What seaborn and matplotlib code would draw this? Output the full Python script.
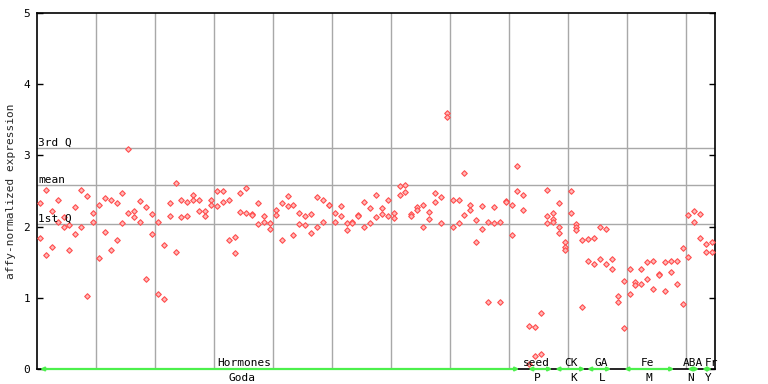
import matplotlib
matplotlib.use("Agg")
import matplotlib.pyplot as plt
import numpy as np
import pandas as pd
import seaborn as sns

# ---------------- data ----------------
hormones_goda = [
    (2.33, 1.84), (2.51, 1.60), (2.22, 1.71), (2.38, 2.07), (2.13, 1.99),
    (2.02, 1.67), (2.27, 1.89), (2.52, 1.99), (2.43, 1.02), (2.19, 2.07),
    (2.31, 1.56), (2.40, 1.93), (2.38, 1.67), (2.33, 1.81), (2.47, 2.05),
    (3.09, 2.19), (2.22, 2.13), (2.36, 2.07), (2.27, 1.27), (2.17, 1.89),
    (2.07, 1.05), (1.74, 0.99), (2.33, 2.15), (2.61, 1.65), (2.38, 2.13),
    (2.34, 2.15), (2.45, 2.37), (2.38, 2.22), (2.22, 2.15), (2.37, 2.30),
    (2.50, 2.29), (2.50, 2.34), (2.37, 1.81), (1.86, 1.63), (2.47, 2.20),
    (2.54, 2.19), (2.17, 2.16), (2.33, 2.03), (2.15, 2.07), (2.05, 1.96),
    (2.23, 2.16), (2.33, 1.81), (2.43, 2.29), (2.30, 1.88), (2.19, 2.03),
    (2.15, 2.02), (2.17, 1.91), (2.41, 1.99), (2.37, 2.07), (2.31, 2.31),
    (2.19, 2.06), (2.29, 2.15), (2.05, 1.95), (2.07, 2.05), (2.16, 2.15),
    (2.34, 1.99), (2.26, 2.05), (2.45, 2.13), (2.26, 2.17), (2.37, 2.15),
    (2.19, 2.12), (2.57, 2.44), (2.59, 2.48), (2.17, 2.15), (2.27, 2.24),
    (2.30, 2.00), (2.20, 2.10), (2.47, 2.34), (2.41, 2.05), (3.59, 3.54),
    (2.37, 1.99), (2.38, 2.05), (2.75, 2.16), (2.30, 2.23), (2.09, 1.79),
    (2.29, 1.96), (2.06, 0.94), (2.27, 2.05), (2.07, 0.94), (2.36, 2.35),
    (2.30, 1.88), (2.85, 2.50), (2.45, 2.24),
]
seed_p = [(0.61, 0.07), (0.59, 0.18), (0.78, 0.21)]
ck_k = [(2.52, 2.15, 2.05), (2.19, 2.10, 2.07), (2.33, 1.99, 1.91),
        (1.79, 1.72, 1.67), (2.50, 2.19), (2.03, 1.99, 1.95)]
ga_l = [(1.81, 0.87), (1.82, 1.51), (1.84, 1.47), (2.00, 1.54), (1.96, 1.47),
        (1.54, 1.41)]
fe_m = [(1.02, 0.94), (1.23, 0.57), (1.41, 1.06), (1.22, 1.18), (1.40, 1.20),
        (1.50, 1.27), (1.51, 1.12), (1.34, 1.32), (1.50, 1.09), (1.51, 1.36),
        (1.51, 1.19), (1.70, 0.91)]
aba_n = [(2.16, 1.57), (2.22, 2.07), (2.17, 1.84)]
fr_y = [(1.75, 1.64), (1.79, 1.65)]

group_names = ["Hormones", "seed", "CK", "GA", "Fe", "ABA", "Fr"]
group_codes = ["Goda", "P", "K", "L", "M", "N", "Y"]
group_samples = [hormones_goda, seed_p, ck_k, ga_l, fe_m, aba_n, fr_y]

quartile_labels = ["3rd Q", "mean", "1st Q"]
quartile_values = [3.10, 2.58, 2.03]

y_ticks = [0, 1, 2, 3, 4, 5]

# ---------------- build long-form table ----------------
rows = []
pos = 0
for name, samples in zip(group_names, group_samples):
    for sample in samples:
        for v in sample:
            rows.append({"sample": pos, "expression": v, "group": name})
        pos += 1
df = pd.DataFrame(rows)
n_samples = pos

# ---------------- figure ----------------
sns.set_style("white")
plt.rcParams["font.family"] = ["DejaVu Sans Mono", "DejaVu Sans"]
fig = plt.figure(figsize=(7.68, 3.84), dpi=100)
ax = fig.add_axes([37 / 768, 15 / 384, 678 / 768, 356 / 384])

sns.scatterplot(data=df, x="sample", y="expression", marker="D", s=8,
                color="#ffb8b8", edgecolor="#ff4d4d", linewidth=0.8,
                legend=False, ax=ax, zorder=3)

ax.set_xlim(-0.5, n_samples - 0.5)
ax.set_ylim(0, 5)

# vertical grid every 10 samples
for gx in np.arange(9.5, n_samples - 1, 10):
    ax.axvline(gx, color="#a8a8a8", lw=1.0, zorder=1)

# quartile / mean lines
for lab, val in zip(quartile_labels, quartile_values):
    ax.axhline(val, color="#a8a8a8", lw=1.0, zorder=1)
    ax.annotate(lab, xy=(0, val), xycoords=("axes fraction", "data"),
                xytext=(1, 1.8), textcoords="offset points",
                ha="left", va="baseline", fontsize=8, color="black")

# axes styling
for s in ax.spines.values():
    s.set_color("black")
    s.set_linewidth(1.2)
ax.set_xticks([])
ax.set_yticks(y_ticks)
ax.set_yticklabels([str(t) for t in y_ticks])
ax.tick_params(axis="y", direction="in", length=4.5, width=1, pad=5,
               labelsize=8, left=True, right=True, labelright=False,
               colors="black")
ax.set_xlabel("")
ax.set_ylabel("affy-normalized expression", fontsize=8, labelpad=5)

# group annotations at bottom
span_start = [0.0, 82.8, 87.4, 92.8, 99.1, 109.8, 112.3]
span_end = [81.3, 86.9, 92.5, 96.9, 107.6, 111.8, 114.0]
name_x = [34.7, 84.2, 90.1, 95.2, 103.1, 110.7, 113.9]
code_x = [34.3, 84.4, 90.5, 95.4, 103.3, 110.3, 113.4]
green = "#4cf04c"
for nm, cd, a, b, nx, cx in zip(group_names, group_codes, span_start,
                                span_end, name_x, code_x):
    ax.annotate("", xy=(b, 0), xytext=(a, 0), xycoords="data",
                arrowprops=dict(arrowstyle="<|-|>", color=green, lw=1.6,
                                mutation_scale=5, shrinkA=0, shrinkB=0),
                annotation_clip=False, zorder=4)
    ax.annotate(nm, xy=(nx, 0), xytext=(0, 2.2), textcoords="offset points",
                ha="center", va="baseline", fontsize=8, color="black",
                annotation_clip=False)
    ax.annotate(cd, xy=(cx, 0), xytext=(0, -3), textcoords="offset points",
                ha="center", va="top", fontsize=8, color="black",
                annotation_clip=False)

fig.savefig("out.png", dpi=100, facecolor="white")
